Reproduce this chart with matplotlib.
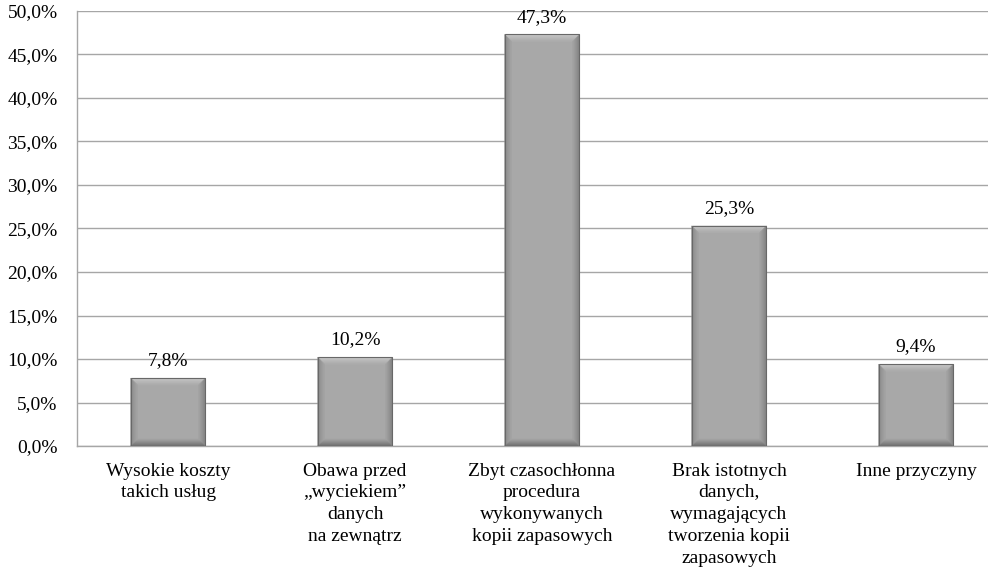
import matplotlib
matplotlib.use("Agg")
import matplotlib.pyplot as plt
from matplotlib.patches import Polygon
from matplotlib.ticker import FuncFormatter
import numpy as np

categories = [
    "Wysokie koszty\ntakich usług",
    "Obawa przed\n„wyciekiem”\ndanych\nna zewnątrz",
    "Zbyt czasochłonna\nprocedura\nwykonywanych\nkopii zapasowych",
    "Brak istotnych\ndanych,\nwymagających\ntworzenia kopii\nzapasowych",
    "Inne przyczyny",
]
values = [7.8, 10.2, 47.3, 25.3, 9.4]
yticks = [0, 5, 10, 15, 20, 25, 30, 35, 40, 45, 50]

plt.rcParams['font.family'] = ['Liberation Serif', 'DejaVu Serif']
FS = 14

fig = plt.figure(figsize=(9.88, 5.75), dpi=100)
ax = fig.add_axes([77/988, 1-446/575, 1-77/988, (446-11)/575])

x = list(range(len(values)))
width = 0.4
bars = ax.bar(x, values, width=width, color="#a8a8a8", edgecolor="none",
              linewidth=0, zorder=3)

ax.set_xlim(-0.487, 4.385)
ax.set_ylim(0, 50)

face = np.array([0xa8, 0xa8, 0xa8]) / 255
edge_cols = {
    "top": np.array([0xc8, 0xc8, 0xc8]) / 255,
    "bottom": np.array([0x70, 0x70, 0x70]) / 255,
    "left": np.array([0x88, 0x88, 0x88]) / 255,
    "right": np.array([0x80, 0x80, 0x80]) / 255,
}
N = 7
px_x = 1/187
px_y = 50/435
for b in bars:
    x0 = b.get_x(); x1 = x0 + b.get_width(); y0 = 0; y1 = b.get_height()
    for k in range(N):
        t = k / N
        a0x, a1x = x0 + k*px_x, x1 - k*px_x
        a0y, a1y = y0 + k*px_y, y1 - k*px_y
        b0x, b1x = x0 + (k+1)*px_x, x1 - (k+1)*px_x
        b0y, b1y = y0 + (k+1)*px_y, y1 - (k+1)*px_y
        def col(name):
            return tuple(edge_cols[name]*(1-t) + face*t)
        faces = [
            ([(a0x, a1y), (a1x, a1y), (b1x, b1y), (b0x, b1y)], col("top")),
            ([(a0x, a0y), (b0x, b0y), (b1x, b0y), (a1x, a0y)], col("bottom")),
            ([(a0x, a0y), (a0x, a1y), (b0x, b1y), (b0x, b0y)], col("left")),
            ([(a1x, a0y), (b1x, b0y), (b1x, b1y), (a1x, a1y)], col("right")),
        ]
        for pts, c in faces:
            ax.add_patch(Polygon(pts, closed=True, facecolor=c, edgecolor=c,
                                 linewidth=0.3, zorder=4))
    ax.add_patch(Polygon([(x0, y0), (x0, y1), (x1, y1), (x1, y0)], closed=True,
                         facecolor="none", edgecolor="#686868", linewidth=0.8, zorder=5))
    ax.text(b.get_x()+b.get_width()/2, y1 + 1.0, f"{y1:.1f}%".replace(".", ","),
            ha="center", va="bottom", fontsize=FS, zorder=6)

ax.set_yticks(yticks)
ax.yaxis.set_major_formatter(FuncFormatter(lambda v, p: f"{v:.1f}%".replace(".", ",")))
ax.set_xticks(x)
ax.set_xticklabels(categories, linespacing=1.37)
ax.tick_params(axis="y", length=0, pad=14, labelsize=FS)
ax.tick_params(axis="x", length=0, pad=12, labelsize=FS)

ax.grid(axis="y", color="#a6a6a6", linewidth=1.0, zorder=0)
ax.set_axisbelow(True)
for s in ["top", "right"]:
    ax.spines[s].set_visible(False)
ax.spines["left"].set_color("#a6a6a6")
ax.spines["bottom"].set_color("#a6a6a6")
ax.spines["left"].set_linewidth(1.0)
ax.spines["bottom"].set_linewidth(1.0)

fig.savefig("out.png", dpi=100)
